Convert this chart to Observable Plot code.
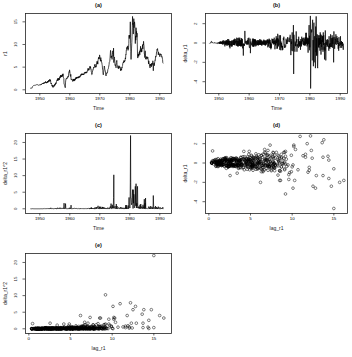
<!DOCTYPE html>
<html><head><meta charset="utf-8">
<script src="https://cdn.jsdelivr.net/npm/d3@7"></script>
<script src="https://cdn.jsdelivr.net/npm/@observablehq/plot@0.6"></script>
<style>
body{margin:0;background:#fff;}
#fig{position:relative;width:352px;height:357px;overflow:hidden;background:#fff;}
#fig svg{position:absolute;overflow:visible;}
</style></head><body><div id="fig"></div>
<script>
// Monthly 1-month interest rate r1, from Dec 1946 to Feb 1991
const startYear = 1946, startMonth = 12;
const r1 = [
 0.35,
 0.33,0.34,0.36,0.37,0.37,0.36,0.52,0.70,0.78,0.82,0.88,0.94,
 0.96,0.98,0.97,0.99,0.98,0.99,0.98,1.03,1.06,1.09,1.11,1.12,
 1.13,1.11,1.12,1.13,1.12,1.05,0.98,1.00,1.04,1.02,1.05,1.08,
 1.04,1.12,1.02,1.15,1.10,1.18,1.08,1.25,1.22,1.35,1.28,1.40,
 1.30,1.45,1.32,1.55,1.40,1.30,1.58,1.50,1.65,1.50,1.62,1.85,
 1.50,1.62,1.45,1.70,1.55,1.75,1.60,1.90,1.62,1.85,1.70,2.10,
 1.85,2.05,1.85,2.25,2.05,2.30,1.90,2.10,1.55,1.30,1.50,1.25,
 1.15,0.80,1.05,0.70,0.85,0.50,0.75,0.90,0.70,1.00,0.80,1.15,
 0.95,1.30,1.10,1.55,1.30,1.50,1.45,1.85,1.95,2.20,1.95,2.50,
 2.20,2.40,2.05,2.55,2.30,2.50,2.15,2.70,2.55,2.95,2.65,3.20,
 2.90,3.20,2.85,3.10,2.80,3.30,2.95,3.40,3.15,3.55,3.00,2.65,
 2.55,1.25,1.20,0.95,0.85,0.55,0.45,1.70,2.15,2.45,2.40,2.60,
 2.60,2.45,2.65,2.85,2.70,3.00,2.85,3.25,3.75,4.00,3.85,4.40,
 4.10,3.60,3.10,2.95,3.40,2.35,2.20,2.35,2.30,2.15,2.10,1.85,
 1.95,2.40,2.05,2.30,1.90,2.35,2.00,2.40,2.05,2.40,2.20,2.60,
 2.45,2.80,2.45,2.75,2.50,2.70,2.85,2.60,2.75,2.55,2.85,2.65,
 2.95,2.70,2.90,2.75,3.00,2.80,3.20,3.10,3.35,3.15,3.50,3.30,
 3.55,3.30,3.55,3.30,3.45,3.35,3.50,3.30,3.55,3.40,3.75,3.65,
 3.85,3.65,3.95,3.70,3.90,3.65,3.90,3.75,4.00,3.85,4.05,4.40,
 4.40,4.75,4.30,4.65,4.30,4.55,4.50,4.95,4.90,5.25,4.75,5.05,
 4.55,4.60,3.95,3.85,3.35,3.40,3.85,4.20,4.20,4.60,4.55,4.95,
 4.80,5.00,4.95,5.50,5.40,5.65,5.00,5.20,4.95,5.30,5.15,5.85,
 5.85,6.30,5.70,6.20,5.65,6.60,6.70,7.15,6.80,7.10,6.90,7.70,
 7.50,6.80,6.55,6.30,7.10,6.35,6.50,6.05,6.05,5.60,5.30,4.55,
 4.25,3.55,3.30,3.80,4.10,4.75,5.25,5.00,4.50,4.35,4.15,3.70,
 3.25,3.05,3.50,3.65,3.55,3.85,3.75,3.85,4.45,4.55,4.65,4.95,
 5.25,5.55,6.10,6.20,6.30,7.05,7.90,8.70,8.30,7.05,7.45,7.35,
 7.50,6.70,7.80,8.25,8.60,7.75,7.35,9.20,6.00,6.85,7.25,6.85,
 6.30,5.40,5.55,5.25,5.20,4.85,6.05,6.10,6.50,5.60,5.45,5.10,
 4.95,4.75,5.15,4.65,5.30,5.20,5.25,4.90,5.10,4.75,4.90,4.20,
 4.60,4.45,4.65,4.30,4.95,4.80,5.15,5.35,5.85,5.95,6.10,5.90,
 6.45,6.20,6.35,6.10,6.55,6.45,7.05,6.80,7.85,7.75,8.80,8.75,
 9.35,9.00,9.50,9.30,9.70,8.70,9.20,9.10,10.20,12.05,11.30,12.05,
 11.60,12.20,15.00,10.30,8.50,6.70,8.10,9.20,10.40,11.80,13.80,16.20,
 14.40,14.70,12.30,13.60,15.70,13.70,14.30,15.00,14.40,12.80,10.20,11.90,
 10.95,13.70,12.40,12.90,11.60,12.50,10.10,7.50,7.00,7.80,7.40,7.90,
 7.40,8.20,8.00,8.50,7.70,8.80,8.70,9.60,8.40,8.70,8.30,9.10,
 8.40,9.10,9.20,9.90,9.00,10.10,9.90,10.70,10.00,9.60,7.90,7.90,
 7.10,8.40,8.60,6.80,6.90,6.70,7.00,7.30,6.90,7.30,7.00,6.90,
 7.20,6.80,6.50,5.70,6.40,5.90,5.80,5.20,5.20,4.80,5.70,5.60,
 5.20,5.70,5.30,5.10,5.90,5.40,5.90,5.80,6.40,6.20,4.20,5.40,
 5.70,5.90,5.30,5.90,6.20,6.60,6.50,7.40,7.20,7.30,7.70,8.40,
 8.50,9.00,8.90,9.10,8.50,8.50,7.70,8.30,8.00,7.80,7.70,7.80,
 7.30,8.00,7.80,7.80,7.70,7.90,7.40,7.50,7.20,7.30,7.00,6.70,
 6.00,5.90
];

const timeTicks = [1950, 1960, 1970, 1980, 1990];
const r1Ticks = [0, 5, 10, 15];
const deltaTicks = [-4, -2, 0, 2];
const delta2Ticks = [0, 5, 10, 15, 20];
const lagTicks = [0, 5, 10, 15];
const titles = ["(a)", "(b)", "(c)", "(d)", "(e)"];

// Derived tables
const series = r1.map((v, i) => ({time: startYear + (startMonth - 1 + i) / 12, r1: v}));
const diffs = series.slice(1).map((d, i) => {
  const delta = d.r1 - series[i].r1;
  return {time: d.time, lag: series[i].r1, delta, delta2: delta * delta};
});

const FONT = '"Liberation Sans", Arial, Helvetica, sans-serif';
const fig = document.getElementById("fig");

function panel({left, top, marginLeft, xDomain, yDomain, xTicks, yTicks, title, xLabel, yLabel, marks}) {
  const W = 176, H = 120, mt = 13, mb = 27, mr = 5;
  const chart = Plot.plot({
    width: W, height: H,
    marginLeft, marginRight: mr, marginTop: mt, marginBottom: mb,
    x: {domain: xDomain, axis: null},
    y: {domain: yDomain, axis: null},
    style: {fontFamily: FONT, background: "transparent", color: "black", overflow: "visible"},
    marks: [
      ...marks,
      Plot.frame({stroke: "#222", strokeWidth: 0.8}),
      Plot.axisX(xTicks, {tickSize: 2.5, tickPadding: 1.2, fontSize: 4.4, label: null, tickFormat: d => String(d), stroke: "#222", strokeWidth: 0.7}),
      Plot.axisY(yTicks, {tickSize: 2.5, label: null, tickFormat: () => "", stroke: "#222", strokeWidth: 0.7}),
      Plot.text(yTicks, {y: d => d, text: d => String(d), frameAnchor: "left", dx: -10, rotate: -90, fontSize: 4.4, textAnchor: "middle", lineAnchor: "middle", fill: "#222"}),
      Plot.text([title], {text: d => d, frameAnchor: "top", dy: -8.5, fontSize: 5.6, fontWeight: "bold", lineAnchor: "middle", fill: "#111"}),
      Plot.text([xLabel], {text: d => d, frameAnchor: "bottom", dy: 14.7, fontSize: 5, lineAnchor: "middle", fill: "#222"}),
      Plot.text([yLabel], {text: d => d, frameAnchor: "left", dx: -20, rotate: -90, fontSize: 5, lineAnchor: "middle", textAnchor: "middle", fill: "#222"})
    ]
  });
  chart.style.left = left + "px";
  chart.style.top = top + "px";
  fig.appendChild(chart);
}

const lineStyle = {stroke: "black", strokeWidth: 0.7};
const dotStyle = {r: 1.35, stroke: "black", strokeWidth: 0.5, fill: "none"};

panel({left: 0, top: 0, marginLeft: 25, xDomain: [1945.23, 1993.9], yDomain: [-0.82, 16.84],
  xTicks: timeTicks, yTicks: r1Ticks, title: titles[0], xLabel: "Time", yLabel: "r1",
  marks: [Plot.line(series, {x: "time", y: "r1", ...lineStyle})]});

panel({left: 176, top: 0, marginLeft: 29, xDomain: [1945.62, 1992.4], yDomain: [-5.22, 3.05],
  xTicks: timeTicks, yTicks: deltaTicks, title: titles[1], xLabel: "Time", yLabel: "delta_r1",
  marks: [Plot.line(diffs, {x: "time", y: "delta", ...lineStyle})]});

panel({left: 0, top: 120, marginLeft: 25, xDomain: [1945.23, 1993.9], yDomain: [-1.42, 22.7],
  xTicks: timeTicks, yTicks: delta2Ticks, title: titles[2], xLabel: "Time", yLabel: "delta_r1^2",
  marks: [Plot.line(diffs, {x: "time", y: "delta2", ...lineStyle})]});

panel({left: 176, top: 120, marginLeft: 29, xDomain: [-0.4, 16.64], yDomain: [-5.22, 3.05],
  xTicks: lagTicks, yTicks: deltaTicks, title: titles[3], xLabel: "lag_r1", yLabel: "delta_r1",
  marks: [Plot.dot(diffs, {x: "lag", y: "delta", ...dotStyle})]});

panel({left: 0, top: 240, marginLeft: 25, xDomain: [-0.4, 17.12], yDomain: [-1.42, 22.7],
  xTicks: lagTicks, yTicks: delta2Ticks, title: titles[4], xLabel: "lag_r1", yLabel: "delta_r1^2",
  marks: [Plot.dot(diffs, {x: "lag", y: "delta2", ...dotStyle})]});
</script>
</body></html>
